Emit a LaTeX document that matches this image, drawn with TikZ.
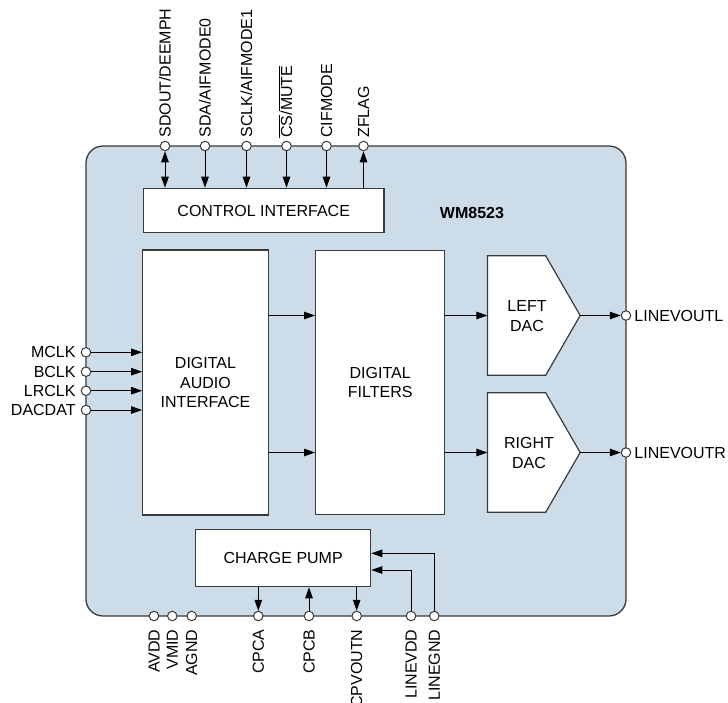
\documentclass[tikz,border=0pt]{standalone}
\usepackage{fontspec}
\setmainfont{Liberation Sans}
\usetikzlibrary{arrows.meta,calc}
\definecolor{body}{HTML}{CCDDE9}
\definecolor{edge}{HTML}{3A3A3A}
\begin{document}
\begin{tikzpicture}[x=1pt,y=-1pt,
  font=\fontsize{16}{19.5}\selectfont,
  box/.style={draw=edge, line width=1.2pt, fill=white, inner sep=0pt, align=center},
  pin/.style={circle, draw=edge, line width=1pt, fill=white, minimum size=9.5pt, inner sep=0pt},
  tipx/.tip={Triangle[length=11pt,width=7.5pt]},
  arr/.style={-tipx, line width=1pt},
  barr/.style={tipx-tipx, line width=1pt},
  tlab/.style={rotate=90, anchor=west, inner sep=0pt, text height=11pt, text depth=0pt},
  blab/.style={rotate=90, anchor=east, inner sep=0pt, text height=11pt, text depth=0pt},
  llab/.style={anchor=east, inner sep=0pt, text height=11pt, text depth=0pt},
  rlab/.style={anchor=west, inner sep=0pt, text height=11pt, text depth=0pt}]
\useasboundingbox (0,0) rectangle (728,702);
% chip body
\node[draw=edge, line width=1.3pt, fill=body, rounded corners=17pt,
      minimum width=540pt, minimum height=470pt, inner sep=0pt] (chip) at (356,381) {};
\node[font=\fontsize{16}{19.5}\selectfont\bfseries] (title) at (472,213) {WM8523};
% blocks
\node[box, minimum width=240.7pt, minimum height=44.4pt] (ci) at (263.7,210.5) {CONTROL INTERFACE};
\node[box, minimum width=125.6pt, minimum height=265pt] (dai) at (205.5,382.5) {DIGITAL\\AUDIO\\INTERFACE};
\node[box, minimum width=129pt, minimum height=264pt] (df) at (380.2,382.5) {DIGITAL\\FILTERS};
\node[box, minimum width=175pt, minimum height=57.4pt] (cp) at (283.2,558) {CHARGE PUMP};
% DACs
\node[minimum width=92.3pt, minimum height=119pt, inner sep=0pt] (ldac) at (533.8,315.5) {};
\node[minimum width=92.3pt, minimum height=119pt, inner sep=0pt] (rdac) at (533.8,452.5) {};
\foreach \d in {ldac,rdac}{
  \draw[draw=edge, line width=1.2pt, fill=white]
    (\d.north west) -- ($(\d.north west)+(58.3,0)$) -- (\d.east)
    -- ($(\d.south west)+(58.3,0)$) -- (\d.south west) -- cycle;
}
\node[align=center, inner sep=0pt] (ltxt) at (527,316) {LEFT\\DAC};
\node[align=center, inner sep=0pt] (rtxt) at (529,453) {RIGHT\\DAC};
% top pins
\node[pin] (pSDOUT) at (165,146) {};
\node[pin] (pSDA) at (205,146) {};
\node[pin] (pSCLK) at (246.5,146) {};
\node[pin] (pCS) at (286.5,146) {};
\node[pin] (pCIF) at (326.5,146) {};
\node[pin] (pZF) at (363.5,146) {};
\node[tlab] (lSDOUT) at ($(pSDOUT.north)+(0,-3)$) {SDOUT/DEEMPH};
\node[tlab] (lSDA) at ($(pSDA.north)+(0,-3)$) {SDA/AIFMODE0};
\node[tlab] (lSCLK) at ($(pSCLK.north)+(0,-3)$) {SCLK/AIFMODE1};
\node[tlab] (lCS) at ($(pCS.north)+(0,-3)$) {$\overline{\mbox{CS}}$/$\overline{\mbox{MUTE}}$};
\node[tlab] (lCIF) at ($(pCIF.north)+(0,-3)$) {CIFMODE};
\node[tlab] (lZF) at ($(pZF.north)+(0,-3)$) {ZFLAG};
\draw[barr] (pSDOUT) -- (pSDOUT |- ci.north);
\draw[arr] (pSDA) -- (pSDA |- ci.north);
\draw[arr] (pSCLK) -- (pSCLK |- ci.north);
\draw[arr] (pCS) -- (pCS |- ci.north);
\draw[arr] (pCIF) -- (pCIF |- ci.north);
\draw[arr] (pZF |- ci.north) -- (pZF);
% left pins
\node[pin] (pMCLK) at (86,352.3) {};
\node[pin] (pBCLK) at (86,371.7) {};
\node[pin] (pLRCLK) at (86,390.7) {};
\node[pin] (pDACDAT) at (86,410) {};
\node[llab] (lMCLK) at ($(pMCLK.west)+(-5,0)$) {MCLK};
\node[llab] (lBCLK) at ($(pBCLK.west)+(-5,0)$) {BCLK};
\node[llab] (lLRCLK) at ($(pLRCLK.west)+(-5,0)$) {LRCLK};
\node[llab] (lDACDAT) at ($(pDACDAT.west)+(-5,0)$) {DACDAT};
\foreach \p in {pMCLK,pBCLK,pLRCLK,pDACDAT}{
  \draw[arr] (\p) -- (\p -| dai.west);
}
% internal
\draw[arr] (dai.east |- ldac.east) -- (df.west |- ldac.east);
\draw[arr] (dai.east |- rdac.east) -- (df.west |- rdac.east);
\draw[arr] (df.east |- ldac.east) -- (ldac.west);
\draw[arr] (df.east |- rdac.east) -- (rdac.west);
% right pins
\node[pin] (pLOL) at (626,315.5) {};
\node[pin] (pLOR) at (626,452.5) {};
\node[rlab] (lLOL) at ($(pLOL.east)+(3,0)$) {LINEVOUTL};
\node[rlab] (lLOR) at ($(pLOR.east)+(3,0)$) {LINEVOUTR};
\draw[arr] (ldac.east) -- (pLOL);
\draw[arr] (rdac.east) -- (pLOR);
% bottom pins
\node[pin] (pAVDD) at (154,616) {};
\node[pin] (pVMID) at (172.3,616) {};
\node[pin] (pAGND) at (191.7,616) {};
\node[pin] (pCPCA) at (258.3,616) {};
\node[pin] (pCPCB) at (309,616) {};
\node[pin] (pCPVO) at (356.7,616) {};
\node[pin] (pLVDD) at (411,616) {};
\node[pin] (pLGND) at (434.3,616) {};
\foreach \p/\t in {pAVDD/AVDD,pVMID/VMID,pAGND/AGND,pCPCA/CPCA,pCPCB/CPCB,pCPVO/CPVOUTN,pLVDD/LINEVDD,pLGND/LINEGND}{
  \node[blab] (l\p) at ($(\p.south)+(0,8)$) {\t};
}
\draw[arr] (cp.south -| pCPCA) -- (pCPCA);
\draw[arr] (pCPCB) -- (pCPCB |- cp.south);
\draw[arr] (cp.south -| pCPVO) -- (pCPVO);
\coordinate (cvdd) at ($(cp.east)+(0,12)$);
\coordinate (cgnd) at ($(cp.east)+(0,-4.7)$);
\draw[arr] (pLVDD) |- (cvdd);
\draw[arr] (pLGND) |- (cgnd);
\end{tikzpicture}
\end{document}
